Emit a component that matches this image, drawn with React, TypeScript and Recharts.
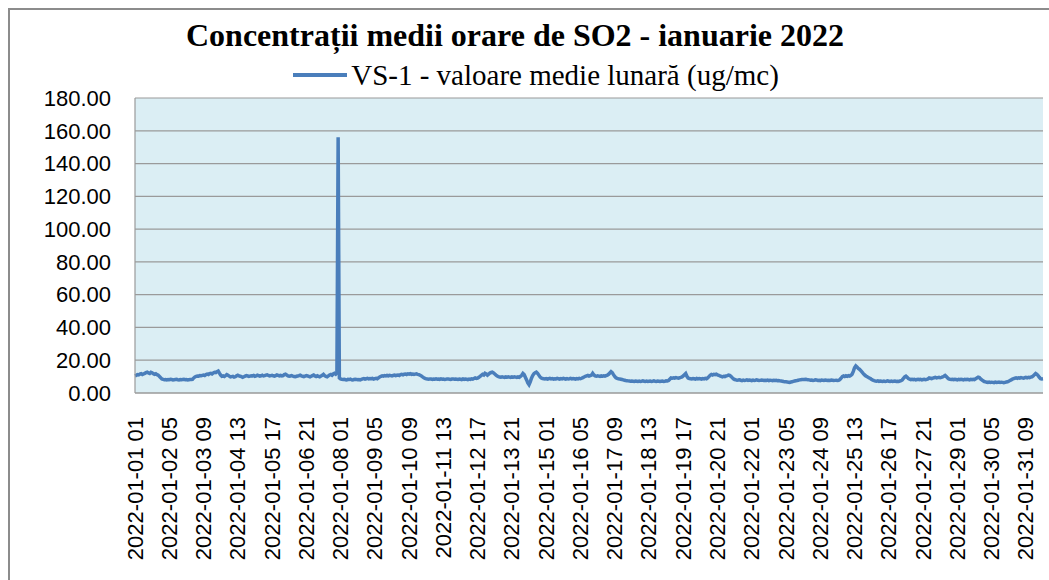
import React from 'react';
import { LineChart, Line, XAxis, YAxis, CartesianGrid } from 'recharts';

// ore 01..23 pentru prima zi, apoi 24 de valori pe zi (ug/mc)
const week1 = [
  // 01
  10.5, 10.8, 11.2, 11.0, 11.5, 11.8, 11.3, 11.6, 12.0, 12.4, 12.7, 12.2, 11.9, 12.6, 12.3, 11.8, 11.4, 11.7, 11.2, 10.8, 10.1, 9.3, 8.6,
  // 02
  8.3, 8.1, 8.2, 8.0, 8.2, 8.1, 8.3, 8.2, 8.0, 8.1, 8.2, 8.3, 8.1, 8.0, 8.2, 8.1, 8.2, 8.3, 8.1, 8.2, 8.0, 8.1, 8.2, 8.3,
  // 03
  8.4, 9.2, 9.8, 10.2, 10.4, 10.3, 10.6, 10.5, 10.8, 11.0, 10.7, 11.2, 11.5, 11.3, 11.8, 12.0, 11.6, 12.2, 12.6, 12.4, 13.0, 13.4, 12.1, 10.9,
  // 04
  10.2, 10.4, 10.1, 10.6, 11.2, 10.8, 10.3, 9.8, 10.0, 10.2, 9.7, 9.9, 10.5, 10.8, 10.4, 10.2, 10.0, 9.6, 9.9, 10.3, 10.6, 10.4, 10.1, 10.3,
  // 05
  10.5, 10.4, 10.7, 10.2, 10.4, 10.9, 10.6, 10.3, 10.5, 10.8, 10.4, 10.6, 10.9, 11.1, 10.7, 10.4, 10.6, 10.8, 10.5, 10.3, 10.6, 11.0, 10.8, 10.5,
  // 06
  10.7, 10.4, 10.6, 11.2, 11.5, 10.9, 10.5, 10.2, 10.4, 10.6, 10.3, 10.1, 9.9, 10.2, 10.4, 10.6, 10.9, 10.5, 10.2, 10.0, 10.3, 10.6, 10.4, 10.1,
  // 07
  9.8, 10.2, 10.6, 11.0, 10.4, 10.1, 10.5, 10.2, 9.9, 10.3, 10.8, 11.4, 10.6, 10.1, 9.9, 10.4, 11.0, 11.3, 10.8, 11.6, 12.0, 11.5, 12.3, 156.0,
];

const week2 = [
  // 08
  9.2, 8.6, 8.3, 8.2, 8.4, 8.1, 8.0, 8.3, 8.2, 8.5, 8.1, 8.0, 8.2, 8.4, 8.3, 8.1, 8.2, 8.0, 8.3, 8.6, 8.8, 8.5, 8.7, 8.9,
  // 09
  8.6, 8.8, 8.7, 8.9, 8.5, 8.8, 9.0, 8.7, 9.2, 9.8, 10.2, 10.5, 10.3, 10.6, 10.4, 10.7, 10.5, 10.8, 10.6, 10.4, 10.7, 10.9, 10.6, 10.8,
  // 10
  11.0, 10.7, 11.2, 11.4, 11.1, 11.5, 11.6, 11.3, 11.7, 11.5, 11.8, 11.4, 11.6, 11.3, 11.5, 11.7, 11.4, 11.2, 10.8, 10.4, 9.8, 9.3, 8.9, 8.6,
  // 11
  8.5, 8.4, 8.6, 8.5, 8.3, 8.5, 8.4, 8.6, 8.4, 8.5, 8.3, 8.6, 8.4, 8.5, 8.3, 8.4, 8.6, 8.5, 8.4, 8.3, 8.5, 8.6, 8.4, 8.5,
  // 12
  8.4, 8.3, 8.5, 8.4, 8.2, 8.6, 8.3, 8.5, 8.4, 8.2, 8.5, 8.3, 8.6, 8.4, 8.8, 9.2, 8.9, 9.1, 9.6, 10.2, 10.8, 11.4, 11.0, 12.0,
  // 13
  11.6, 10.9, 11.5, 12.2, 12.5, 12.7, 12.3, 11.6, 10.9, 10.4, 10.0, 9.8, 9.6, 9.9, 9.7, 9.5, 9.8, 9.6, 9.9, 9.7, 9.5, 9.8, 9.6, 9.9,
  // 14
  9.7, 9.5, 9.8, 9.6, 10.2, 10.8, 11.9, 11.2, 9.6, 8.0, 6.2, 5.1, 6.8, 9.0, 10.6, 11.8, 12.3, 12.7, 12.0, 10.9, 9.8, 9.1, 8.8, 8.7,
];

const week3 = [
  // 15
  8.6, 8.8, 8.5, 8.7, 8.9, 8.6, 8.8, 8.5, 8.7, 8.6, 8.9, 8.7, 8.5, 8.8, 8.6, 8.9, 8.7, 8.5, 8.8, 8.6, 8.7, 8.9, 8.6, 8.8,
  // 16
  8.7, 8.5, 8.8, 8.6, 8.9, 8.7, 9.0, 9.4, 9.8, 10.2, 10.5, 10.7, 10.3, 10.6, 10.9, 12.0, 11.0, 10.4, 10.2, 10.5, 10.3, 10.1, 10.4, 10.2,
  // 17
  10.5, 10.3, 10.6, 10.9, 11.4, 12.2, 13.0, 12.4, 11.2, 10.1, 9.3, 8.9, 8.7, 8.6, 8.4, 8.2, 8.0, 7.8, 7.6, 7.5, 7.4, 7.3, 7.2, 7.3,
  // 18
  7.2, 7.1, 7.3, 7.2, 7.0, 7.3, 7.1, 7.2, 7.4, 7.2, 7.0, 7.3, 7.1, 7.2, 7.3, 7.1, 7.2, 7.4, 7.2, 7.1, 7.3, 7.2, 7.0, 7.2,
  // 19
  7.3, 7.1, 7.2, 7.4, 7.3, 7.6, 8.4, 9.2, 9.0, 9.3, 9.1, 9.4, 9.2, 9.0, 9.3, 9.5, 9.8, 10.4, 11.2, 11.9, 10.2, 9.1, 8.8, 8.7,
  // 20
  8.6, 8.8, 8.7, 8.5, 8.9, 8.6, 8.8, 8.7, 8.5, 8.8, 8.6, 8.9, 8.7, 9.2, 10.0, 10.8, 11.3, 11.0, 11.4, 11.2, 11.5, 11.1, 10.8, 10.4,
  // 21
  10.1, 9.8, 10.2, 10.0, 10.4, 10.6, 10.9, 10.7, 10.2, 9.4, 8.6, 8.2, 8.0, 7.8, 7.9, 8.1, 7.8, 7.6, 7.9, 7.7, 7.8, 8.0, 7.7, 7.9,
];

const week4 = [
  // 22
  7.8, 7.6, 7.9, 7.7, 7.8, 8.0, 7.8, 7.6, 7.7, 7.9, 7.8, 7.6, 7.8, 7.7, 7.9, 7.6, 7.8, 7.7, 7.5, 7.8, 7.6, 7.7, 7.5, 7.6,
  // 23
  7.4, 7.3, 7.2, 7.0, 6.9, 6.8, 6.7, 6.6, 6.5, 6.7, 6.9, 7.1, 7.3, 7.5, 7.6, 7.8, 8.0, 8.1, 8.2, 8.3, 8.2, 8.4, 8.2, 8.1,
  // 24
  8.0, 7.8, 7.9, 7.7, 7.8, 8.0, 7.9, 7.7, 7.8, 7.6, 7.9, 7.8, 7.7, 7.9, 7.8, 7.6, 7.8, 7.7, 7.9, 7.8, 7.6, 7.7, 7.8, 7.7,
  // 25
  7.8, 8.2, 9.0, 10.0, 10.4, 10.1, 10.5, 10.2, 10.6, 10.3, 10.8, 11.5, 13.2, 15.4, 16.5, 15.8, 15.0, 14.5, 13.8, 12.9, 12.0, 11.2, 10.5, 10.0,
  // 26
  9.6, 9.2, 8.8, 8.2, 7.8, 7.5, 7.3, 7.2, 7.4, 7.1, 7.3, 7.2, 7.0, 7.3, 7.1, 7.2, 7.4, 7.2, 7.0, 7.3, 7.1, 7.2, 7.3, 7.1,
  // 27
  7.2, 7.0, 7.3, 7.5, 8.0, 9.0, 9.8, 10.3, 9.6, 8.8, 8.5, 8.2, 8.4, 8.1, 8.3, 8.0, 8.2, 8.4, 8.1, 8.3, 8.0, 8.2, 8.4, 8.1,
  // 28
  8.3, 8.6, 9.2, 9.0, 8.8, 9.1, 9.3, 9.5, 9.2, 9.4, 9.6, 9.3, 9.5, 9.8, 10.2, 10.7, 10.0, 9.2, 8.6, 8.3, 8.2, 8.4, 8.1, 8.3,
];

const week5 = [
  // 29
  8.2, 8.0, 8.3, 8.1, 8.4, 8.2, 8.0, 8.3, 8.1, 8.4, 8.2, 8.0, 8.3, 8.1, 8.4, 8.2, 8.6, 9.2, 9.7, 9.4, 8.6, 8.0, 7.4, 7.0,
  // 30
  6.8, 6.6, 6.5, 6.7, 6.4, 6.6, 6.5, 6.3, 6.6, 6.4, 6.5, 6.7, 6.4, 6.6, 6.5, 6.3, 6.5, 6.7, 6.8, 7.2, 7.6, 8.0, 8.5, 8.8,
  // 31
  9.0, 9.2, 8.9, 9.3, 9.1, 9.4, 9.2, 9.0, 9.3, 9.5, 9.2, 9.6, 9.4, 9.7, 9.9, 10.4, 11.2, 11.9, 11.4, 10.6, 9.6, 8.8, 8.6, 8.7,
];

const yTicks = [0, 20, 40, 60, 80, 100, 120, 140, 160, 180];

const pad = (n: number) => String(n).padStart(2, '0');

// etichete orare: 2022-01-01 01 ... 2022-01-31 23
const values = [...week1, ...week2, ...week3, ...week4, ...week5];
const data = values.map((v, i) => {
  const h = i + 1;
  const day = Math.floor(h / 24) + 1;
  return { time: `2022-01-${pad(day)} ${pad(h % 24)}`, so2: v };
});

const AXIS_FONT = '"Liberation Sans", Arial, sans-serif';
const SERIF = '"Liberation Serif", "Times New Roman", serif';
const LINE_COLOR = '#4A7EBB';

const XTick = (props: any) => {
  const { x, y, payload } = props;
  return (
    <text
      x={0}
      y={0}
      transform={`translate(${x},${y + 16}) rotate(-90)`}
      textAnchor="end"
      dominantBaseline="central"
      fontFamily={AXIS_FONT}
      fontSize={22}
      fill="#000"
    >
      {payload.value}
    </text>
  );
};

export default function App() {
  return (
    <div style={{ position: 'absolute', left: 0, top: 0, width: 1049, height: 580, background: '#fff', overflow: 'hidden' }}>
      <div style={{ position: 'absolute', left: 8, top: 8, width: 1100, height: 600, borderLeft: '2px solid #8c8c8c', borderTop: '2px solid #8c8c8c' }} />
      <div style={{ position: 'absolute', left: 0, top: 15, width: 1030, textAlign: 'center', fontFamily: SERIF, fontWeight: 'bold', fontSize: 32, lineHeight: '40px', color: '#000' }}>
        Concentrații medii orare de SO2 - ianuarie 2022
      </div>
      <div style={{ position: 'absolute', left: 0, top: 58, width: 1072, display: 'flex', alignItems: 'center', justifyContent: 'center', fontFamily: SERIF, fontSize: 29, lineHeight: '34px', color: '#000' }}>
        <span style={{ display: 'inline-block', width: 54, height: 4, background: LINE_COLOR, marginRight: 4 }} />
        <span>VS-1 - valoare medie lunară (ug/mc)</span>
      </div>
      <LineChart width={1049} height={580} data={data} margin={{ top: 98, right: 6, bottom: 0, left: 0 }} style={{ position: 'absolute', left: 0, top: 0 }}>
        <CartesianGrid vertical={false} stroke="#9a9a9a" strokeWidth={1.2} fill="#DBEEF4" />
        <XAxis
          dataKey="time"
          interval={27}
          tickLine={false}
          axisLine={{ stroke: '#9a9a9a', strokeWidth: 1.2 }}
          tick={<XTick />}
          height={187}
        />
        <YAxis
          domain={[0, 180]}
          ticks={yTicks}
          interval={0}
          width={135}
          tickLine={false}
          tickSize={0}
          tickMargin={24}
          axisLine={{ stroke: '#9a9a9a', strokeWidth: 1.2 }}
          tickFormatter={(v: number) => v.toFixed(2)}
          tick={{ fontFamily: AXIS_FONT, fontSize: 22, fill: '#000' }}
        />
        <Line
          type="linear"
          dataKey="so2"
          stroke={LINE_COLOR}
          strokeWidth={3.5}
          dot={false}
          isAnimationActive={false}
        />
      </LineChart>
    </div>
  );
}
